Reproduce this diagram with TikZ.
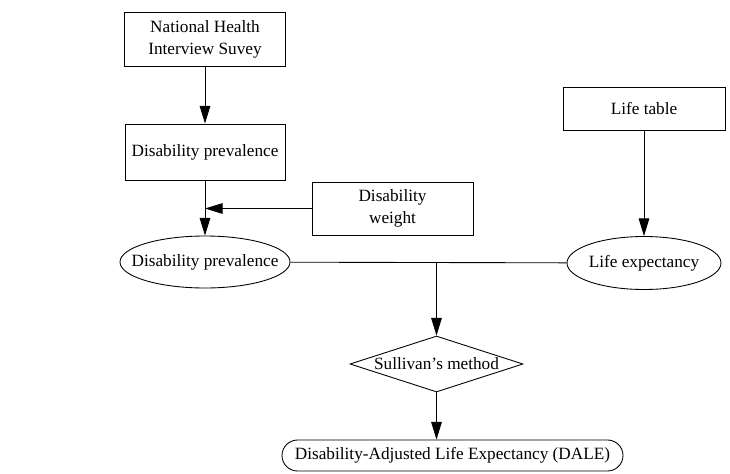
\documentclass[tikz,border=0pt]{standalone}
\usepackage{fontspec}
\setmainfont{Liberation Serif}
\usetikzlibrary{shapes.geometric}
\usetikzlibrary{shapes.misc}
\usetikzlibrary{arrows.meta}

\begin{document}
\begin{tikzpicture}[
		txt/.style={font=\fontsize{9.8}{12.5}\selectfont},
		box/.style={txt,draw,line width=0.5pt,rectangle,inner sep=0pt,align=center},
		oval/.style={txt,draw,line width=0.5pt,ellipse,inner xsep=-0.42cm,inner ysep=0pt},
		decision/.style={txt,draw,line width=0.5pt,diamond,aspect=3.1,inner sep=0pt},
		result/.style={txt,draw,line width=0.5pt,rounded rectangle,inner sep=0pt},
		flow/.style={line width=0.5pt,-{Triangle[length=10pt,width=6pt]}}
	]
		\useasboundingbox (0,0) rectangle (14.6,-9.46);
		\node[box,minimum width=3.22cm,minimum height=1.08cm] (nhis) at (4.1,-0.78) {National Health\\Interview Suvey};
		\node[box,minimum width=3.2cm,minimum height=1.12cm] (prevbox) at (4.1,-3.04) {Disability prevalence};
		\node[box,minimum width=3.22cm,minimum height=1.06cm] (weight) at (7.85,-4.17) {Disability\\weight};
		\node[oval,minimum width=3.4cm,minimum height=1.04cm] (prevell) at (4.1,-5.24) {Disability prevalence};
		\node[box,minimum width=3.24cm,minimum height=0.86cm] (lifetab) at (12.88,-2.17) {Life table};
		\node[oval,minimum width=3.08cm,minimum height=1.06cm] (lifeexp) at (12.88,-5.26) {Life expectancy};
		\node[decision,minimum width=3.46cm,minimum height=1.12cm] (sullivan) at (8.73,-7.28) {Sullivan's method};
		\node[result,minimum width=6.82cm,minimum height=0.62cm] (dale) at (9.05,-9.11) {Disability-Adjusted Life Expectancy (DALE)};
		\coordinate (join) at (prevell.east -| sullivan.north);
		\draw[flow] (nhis) -- (prevbox);
		\draw[flow] (prevbox) -- (prevell);
		\draw[flow] (weight.west) -- (weight.west -| prevbox.south);
		\draw[flow] (lifetab) -- (lifeexp);
		\draw[line width=0.5pt] (prevell) -- (lifeexp);
		\draw[flow] (join) -- (sullivan);
		\draw[flow] (sullivan) -- (sullivan.south |- dale.north);
	\end{tikzpicture}
\end{document}
